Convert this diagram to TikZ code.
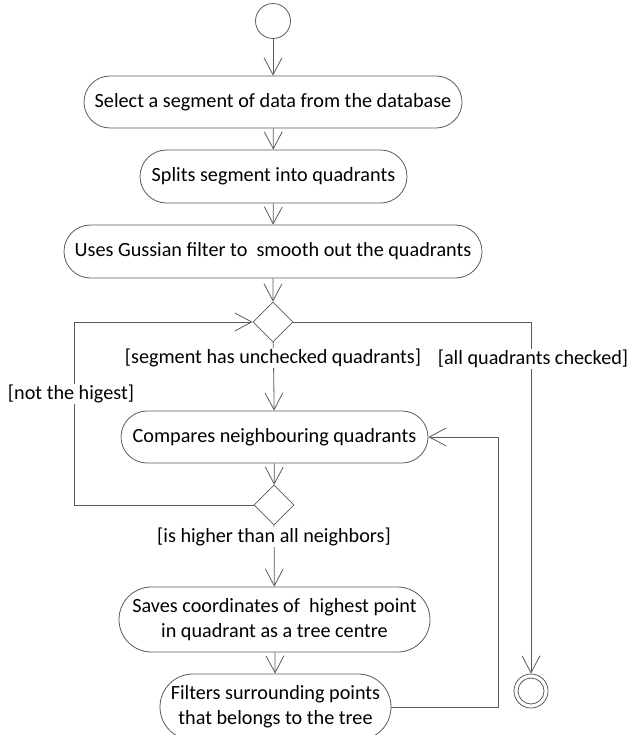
\documentclass[tikz,border=0pt]{standalone}
\usepackage{fontspec}
\setmainfont{Carlito}
\usetikzlibrary{shapes.misc,shapes.geometric,arrows.meta}
\definecolor{linegray}{HTML}{5A5A5A}
\tikzset{
  act/.style={rounded rectangle, draw=linegray, line width=0.8pt, inner sep=0pt,
    align=center, font=\fontsize{20.2}{25}\selectfont},
  dec/.style={diamond, draw=linegray, line width=0.8pt, minimum width=40pt, minimum height=40pt, inner sep=0pt},
  flow/.style={draw=linegray, line width=0.8pt, -{Straight Barb[length=17pt,width=18pt,line width=0.8pt]}},
  guard/.style={fill=white, inner sep=1pt, font=\fontsize{20.2}{24}\selectfont},
}
\begin{document}
\begin{tikzpicture}[x=1pt,y=-1pt]
\useasboundingbox (0,0) rectangle (631,735);
\clip (0,0) rectangle (631,735);
\node[circle, draw=linegray, line width=0.8pt, minimum size=35pt, inner sep=0pt] (start) at (273,21) {};
\node[act, minimum width=378pt, minimum height=52pt] (b1) at (273,102) {Select a segment of data from the database};
\node[act, minimum width=267pt, minimum height=53pt] (b2) at (273.5,176.5) {Splits segment into quadrants};
\node[act, minimum width=418pt, minimum height=53pt] (b3) at (273,251.5) {Uses Gussian filter to \ smooth out the quadrants};
\node[dec] (d1) at (273,322) {};
\node[act, minimum width=307pt, minimum height=52pt] (b4) at (274.5,437) {Compares neighbouring quadrants};
\node[dec] (d2) at (274,505) {};
\node[act, minimum width=311pt, minimum height=65pt] (b5) at (274.5,619.5) {Saves coordinates of \ highest point\\in quadrant as a tree centre};
\node[act, minimum width=231pt, minimum height=66pt] (b6) at (275.5,707) {Filters surrounding points\\that belongs to the tree};
\node[circle, draw=linegray, line width=0.8pt, minimum size=34pt, inner sep=0pt] (final) at (531,691) {};
\node[circle, draw=linegray, line width=0.8pt, minimum size=26pt, inner sep=0pt] (finalin) at (531,691) {};
\coordinate (lt) at (74,322);
\coordinate (lb) at (74,505);
\coordinate (rt) at (531,322);
\coordinate (rlt) at (498,437);
\coordinate (rlb) at (498,707);

\draw[flow] (start) -- (b1);
\draw[flow] (b1) -- (b2);
\draw[flow] (b2) -- (b3);
\draw[flow] (b3) -- (d1);
\draw[flow] (d1) -- (b4);
\draw[flow] (b4) -- (d2);
\draw[flow] (d2.west) -- (lb) -- (lt) -- (d1.west);
\draw[flow] (d1.east) -- (rt) -- (final);
\draw[flow] (d2) -- (b5);
\draw[flow] (b5) -- (b6);
\draw[flow] (b6.east) -- (rlb) -- (rlt) -- (b4.east);

\node[guard] (g1) at (273,358) {[segment has unchecked quadrants]};
\node[guard] (g2) at (533,359) {[all quadrants checked]};
\node[guard] (g3) at (71,394) {[not the higest]};
\node[guard] (g4) at (274,537) {[is higher than all neighbors]};
\end{tikzpicture}
\end{document}
